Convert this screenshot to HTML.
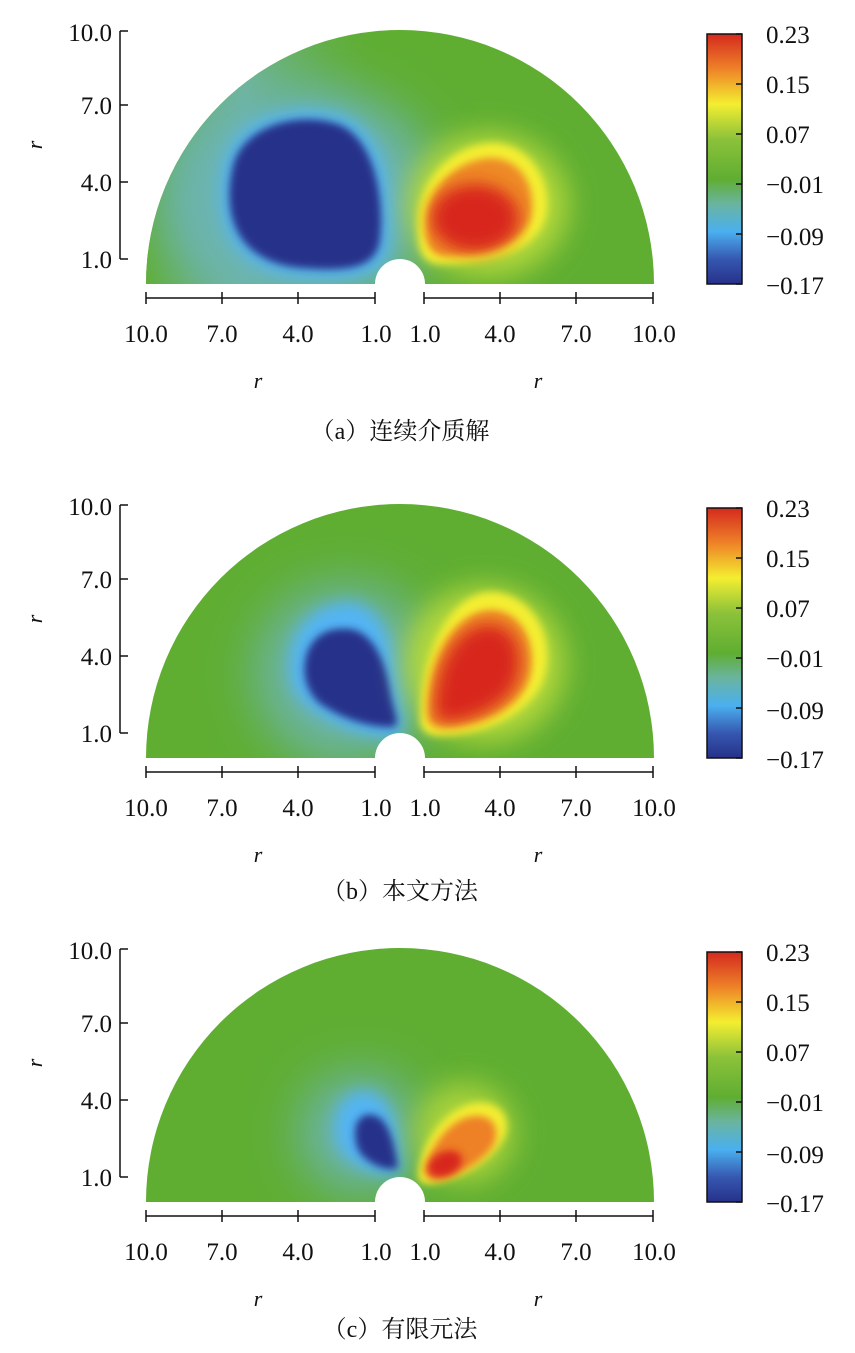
<!DOCTYPE html>
<html><head><meta charset="utf-8"><style>
body{margin:0;background:#fff;}
svg text{font-family:"Liberation Serif","Noto Serif CJK SC",serif;fill:#111;}
</style></head><body>
<svg width="855" height="1348" viewBox="0 0 855 1348" xmlns="http://www.w3.org/2000/svg">
<defs>
<clipPath id="semi"><path d="M146,284 A254,254 0 0 1 654,284 Z"/></clipPath>
<filter id="b4" x="-50%" y="-50%" width="200%" height="200%"><feGaussianBlur stdDeviation="4"/></filter>
<filter id="b8" x="-50%" y="-50%" width="200%" height="200%"><feGaussianBlur stdDeviation="8"/></filter>
<filter id="b14" x="-50%" y="-50%" width="200%" height="200%"><feGaussianBlur stdDeviation="14"/></filter>
<filter id="b25" x="-50%" y="-50%" width="200%" height="200%"><feGaussianBlur stdDeviation="25"/></filter>
<linearGradient id="cb" x1="0" y1="0" x2="0" y2="1">
<stop offset="0" stop-color="#d42a1e"/><stop offset="0.14" stop-color="#ee8228"/>
<stop offset="0.28" stop-color="#f4ee30"/><stop offset="0.42" stop-color="#8cc23a"/>
<stop offset="0.58" stop-color="#5fae32"/><stop offset="0.68" stop-color="#6ab4a0"/>
<stop offset="0.79" stop-color="#4ab0f0"/><stop offset="0.9" stop-color="#3658b0"/>
<stop offset="1" stop-color="#26318a"/></linearGradient>
<linearGradient id="lefta" x1="0" y1="0" x2="1" y2="0">
<stop offset="0" stop-color="#5fae32"/><stop offset="0.2" stop-color="#70b498"/><stop offset="0.48" stop-color="#5fae32" stop-opacity="0"/></linearGradient>

<g id="axes">
<circle cx="400" cy="284" r="25" fill="#fff"/>
<g stroke="#111" stroke-width="1.5" fill="none">
<path d="M120,31 V259 M120,31 H128 M120,105 H128 M120,182 H128 M120,259 H128"/>
<path d="M146,298 H375 M146,292 V304 M222,292 V304 M298,292 V304 M375,292 V304"/>
<path d="M424,298 H653 M424,292 V304 M500,292 V304 M576,292 V304 M653,292 V304"/>
<rect x="707" y="34" width="35" height="250"/>
<path d="M742,34 H736 M742,84 H736 M742,134 H736 M742,184 H736 M742,234 H736 M742,284 H736"/>
</g>
<g font-size="25" text-anchor="end">
<text x="112" y="41">10.0</text><text x="112" y="114">7.0</text><text x="112" y="191">4.0</text><text x="112" y="268">1.0</text>
</g>
<text x="42" y="145" font-size="22" font-style="italic" transform="rotate(-90 42 145)" text-anchor="middle">r</text>
<g font-size="25" text-anchor="middle">
<text x="146" y="342">10.0</text><text x="222" y="342">7.0</text><text x="298" y="342">4.0</text><text x="376" y="342">1.0</text>
<text x="425" y="342">1.0</text><text x="500" y="342">4.0</text><text x="576" y="342">7.0</text><text x="654" y="342">10.0</text>
</g>
<g font-size="22" font-style="italic" text-anchor="middle"><text x="258" y="388">r</text><text x="538" y="388">r</text></g>
<g font-size="25">
<text x="766" y="43">0.23</text><text x="766" y="93">0.15</text><text x="766" y="143">0.07</text>
<text x="766" y="193">−0.01</text><text x="766" y="245">−0.09</text><text x="766" y="294">−0.17</text>
</g>
</g>
</defs>

<!-- panel a -->
<g>
<rect x="707" y="34" width="35" height="250" fill="url(#cb)"/>
<g clip-path="url(#semi)">
<rect x="140" y="20" width="520" height="270" fill="#5fae32"/>
<rect x="140" y="20" width="520" height="270" fill="url(#lefta)"/>
<ellipse cx="300" cy="200" rx="140" ry="115" fill="#6cb4b0" filter="url(#b25)"/>
<path d="M232,170 C240,125 300,110 340,125 C375,140 385,200 380,240 C376,268 350,272 300,268 C240,262 222,220 232,170 Z" fill="#52b4f4" transform="translate(300 195) scale(1.12) translate(-300 -195)" filter="url(#b8)"/>
<path d="M232,170 C240,125 300,110 340,125 C375,140 385,200 380,240 C376,268 350,272 300,268 C240,262 222,220 232,170 Z" fill="#26318a" filter="url(#b4)"/>
<ellipse cx="488" cy="205" rx="80" ry="72" fill="#b4d83a" filter="url(#b14)"/>
<path d="M418,232 C413,185 450,145 492,143 C534,143 556,190 544,222 C530,256 480,264 440,264 C424,264 418,252 418,232 Z" fill="#f4ee30" filter="url(#b4)"/>
<path d="M426,230 C424,190 455,160 490,158 C524,158 538,192 530,220 C520,246 480,256 446,256 C432,256 426,246 426,230 Z" fill="#ee8a28" filter="url(#b4)"/>
<ellipse cx="475" cy="218" rx="44" ry="34" fill="#d8281e" filter="url(#b8)"/>
</g>
<use href="#axes"/>
<text x="400" y="439" font-size="24" text-anchor="middle">（a）连续介质解</text>
</g>

<!-- panel b -->
<g transform="translate(0 474)">
<rect x="707" y="34" width="35" height="250" fill="url(#cb)"/>
<g clip-path="url(#semi)">
<rect x="140" y="20" width="520" height="270" fill="#5fae32"/>
<ellipse cx="345" cy="200" rx="90" ry="90" fill="#6cb4a8" filter="url(#b25)"/>
<path d="M290,185 C292,150 320,128 350,128 C380,130 395,170 398,210 C402,240 408,262 396,264 C370,266 330,250 305,230 C292,218 288,200 290,185 Z" fill="#52b4f4" filter="url(#b8)"/>
<path d="M305,188 C308,165 325,152 350,155 C372,158 385,185 390,215 C394,240 402,252 392,253 C372,254 340,245 318,228 C306,216 303,200 305,188 Z" fill="#26318a" filter="url(#b4)"/>
<ellipse cx="485" cy="190" rx="80" ry="78" fill="#b4d83a" filter="url(#b14)"/>
<path d="M420,245 C420,180 450,120 490,118 C530,118 555,160 545,200 C535,240 480,262 440,262 C425,262 420,255 420,245 Z" fill="#f4ee30" filter="url(#b4)"/>
<path d="M428,240 C428,185 455,138 490,136 C522,136 536,170 530,200 C522,235 478,252 444,253 C432,253 428,248 428,240 Z" fill="#ee8a28" filter="url(#b4)"/>
<path d="M435,235 C435,190 458,150 490,150 C516,152 524,178 518,202 C510,230 475,246 446,248 C438,248 435,242 435,235 Z" fill="#d8281e" filter="url(#b8)"/>
</g>
<use href="#axes"/>
<text x="400" y="425" font-size="24" text-anchor="middle">（b）本文方法</text>
</g>

<!-- panel c -->
<g transform="translate(0 918)">
<rect x="707" y="34" width="35" height="250" fill="url(#cb)"/>
<g clip-path="url(#semi)">
<rect x="140" y="20" width="520" height="270" fill="#5fae32"/>
<ellipse cx="360" cy="215" rx="60" ry="60" fill="#6cb4b0" filter="url(#b25)"/>
<path d="M335,210 C335,180 355,168 375,175 C395,185 400,225 402,255 C385,262 355,250 342,235 C337,228 335,220 335,210 Z" fill="#52b4f4" filter="url(#b8)"/>
<path d="M355,215 C355,198 368,192 380,200 C392,210 396,235 398,250 C385,254 368,245 360,235 C356,228 355,222 355,215 Z" fill="#26318a" filter="url(#b4)"/>
<ellipse cx="465" cy="215" rx="50" ry="50" fill="#a8d23a" filter="url(#b14)"/>
<path d="M418,258 C420,225 445,190 475,185 C500,182 512,200 505,218 C495,240 460,262 430,266 C420,266 418,262 418,258 Z" fill="#f4ee30" filter="url(#b4)"/>
<path d="M424,256 C428,230 450,200 474,198 C494,196 500,212 494,226 C484,244 455,260 432,262 Z" fill="#ee8028" filter="url(#b4)"/>
<ellipse cx="445" cy="246" rx="18" ry="12" fill="#d8281e" filter="url(#b4)" transform="rotate(-25 445 246)"/>
</g>
<use href="#axes"/>
<text x="400" y="419" font-size="24" text-anchor="middle">（c）有限元法</text>
</g>
</svg>
</body></html>
